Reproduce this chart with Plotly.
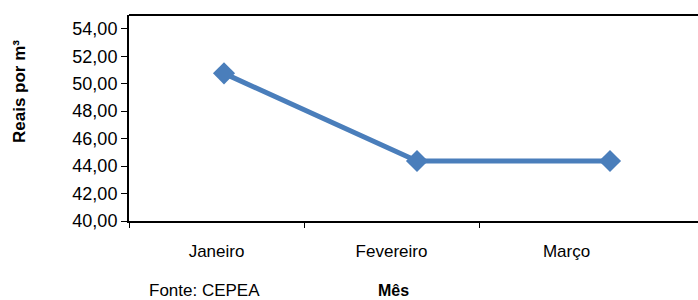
import plotly.graph_objects as go

categorias = ["Janeiro", "Fevereiro", "Março"]
precos = [50.75, 44.37, 44.37]
y_ticks = [40, 42, 44, 46, 48, 50, 52, 54]

FONT = "Liberation Sans, Arial, sans-serif"
BLUE = "#4A7EBB"

# numeric x positions of the points (one per category)
x_pos = list(range(len(categorias)))

# axis geometry: plot area 569 px wide; points spaced 193 px, first at 95 px from left
px_per_unit = 193.0
x_min = -95.0 / px_per_unit
x_max = x_min + 569.0 / px_per_unit
# label bands are 175 px wide starting at the left edge of the plot area
band = 175.0 / px_per_unit
label_vals = [x_min + band * (i + 0.5) for i in x_pos]
bound_vals = [x_min + band * i for i in x_pos]

fig = go.Figure()

fig.add_trace(go.Scatter(
    x=x_pos, y=precos, mode="lines+markers",
    line=dict(color=BLUE, width=5),
    marker=dict(symbol="diamond", size=17, color=BLUE),
    showlegend=False,
))

fig.update_layout(
    width=698, height=300,
    margin=dict(l=129, r=0, t=15, b=79),
    paper_bgcolor="white", plot_bgcolor="white",
    separators=",.",
    font=dict(family=FONT, size=15, color="black"),
    xaxis=dict(
        range=[x_min, x_max], automargin=False,
        tickvals=label_vals, ticktext=categorias,
        showline=True, linecolor="black", linewidth=2, mirror=False,
        ticks="", showgrid=False, zeroline=False,
        tickfont=dict(size=17), ticklabelstandoff=14,
        minor=dict(tickvals=bound_vals, ticks="outside", ticklen=5,
                   tickcolor="black", tickwidth=1, showgrid=False),
    ),
    yaxis=dict(
        range=[40, 55], tickvals=y_ticks, tickformat=".2f", automargin=False,
        showline=True, linecolor="black", linewidth=2, mirror=False,
        ticks="outside", ticklen=6, tickcolor="black", tickwidth=1,
        showgrid=False, zeroline=False, tickfont=dict(size=18),
    ),
    shapes=[
        dict(type="line", xref="paper", yref="paper", x0=0, x1=1, y0=1, y1=1,
             line=dict(color="black", width=2)),
    ],
    annotations=[
        dict(text="<b>Reais por m³</b>", xref="paper", yref="paper",
             x=(20 - 129) / 569, y=(221 - 92) / 206, xanchor="center", yanchor="middle",
             textangle=-90, showarrow=False, font=dict(size=17)),
        dict(text="Fonte: CEPEA", xref="paper", yref="paper",
             x=(147 - 129) / 569, y=(221 - 290) / 206, xanchor="left",
             yanchor="middle", showarrow=False, font=dict(size=17)),
        dict(text="<b>Mês</b>", xref="paper", yref="paper",
             x=(376 - 129) / 569, y=(221 - 290) / 206, xanchor="left",
             yanchor="middle", showarrow=False, font=dict(size=16)),
    ],
)

fig.write_html("out.html", config={"displayModeBar": False},
               post_script="document.body.style.margin='0';document.body.style.overflow='hidden';")
